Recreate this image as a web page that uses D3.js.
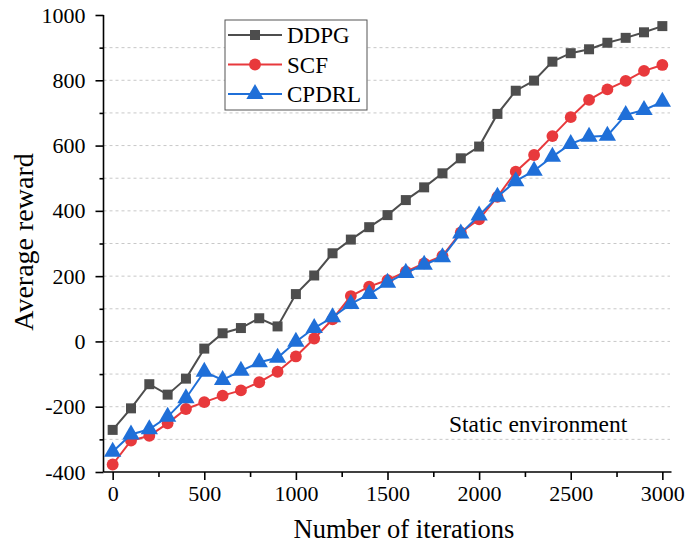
<!DOCTYPE html>
<html>
<head>
<meta charset="utf-8">
<script src="https://cdn.jsdelivr.net/npm/d3@7"></script>
<style>
  body { margin: 0; background: #fff; }
</style>
</head>
<body>
<div id="chart"></div>
<script>
// iterations on the x axis
const iterations = [0, 100, 200, 300, 400, 500, 600, 700, 800, 900, 1000,
    1100, 1200, 1300, 1400, 1500, 1600, 1700, 1800, 1900, 2000,
    2100, 2200, 2300, 2400, 2500, 2600, 2700, 2800, 2900, 3000];

// average reward per method
const ddpg = [-271, -205, -131, -163, -114, -22, 25, 41, 71, 46, 145,
    202, 270, 312, 350, 387, 433, 472, 515, 561, 597,
    697, 768, 799, 857, 883, 895, 915, 930, 947, 966];
const scf = [-377, -304, -289, -251, -207, -186, -166, -150, -125, -93, -46,
    9, 68, 139, 168, 188, 214, 239, 262, 334, 374,
    443, 520, 571, 629, 687, 740, 772, 798, 829, 847];
const cpdrl = [-338, -285, -269, -231, -174, -93, -118, -90, -64, -50, -1,
    41, 74, 115, 145, 180, 210, 235, 258, 331, 386,
    443, 491, 523, 566, 605, 627, 630, 694, 709, 734];

const seriesNames = ["DDPG", "SCF", "CPDRL"];
const seriesColors = ["#4d4d4d", "#e8393c", "#1f6fd8"];
const seriesShapes = [d3.symbolSquare, d3.symbolCircle, d3.symbolTriangle];
const seriesSizes = [100, 110, 130];

const xTicks = [0, 500, 1000, 1500, 2000, 2500, 3000];
const yTicks = [-400, -200, 0, 200, 400, 600, 800, 1000];

const FONT = "'Liberation Serif', 'Times New Roman', 'DejaVu Serif', serif";

const width = 686, height = 547;
const svg = d3.select("#chart").append("svg")
    .attr("width", width)
    .attr("height", height);

const x = d3.scaleLinear().domain([-50, 3050]).range([103.5, 671.5]);
const y = d3.scaleLinear().domain([-400, 1000]).range([472, 15]);

// dashed grid every 100
svg.append("g")
    .selectAll("line")
    .data(d3.range(-300, 1000, 100))
    .join("line")
    .attr("x1", x(-50)).attr("x2", 670)
    .attr("y1", d => y(d)).attr("y2", d => y(d))
    .attr("stroke", "#c8c8c8")
    .attr("stroke-width", 1)
    .attr("stroke-dasharray", "3,3");

// x axis
const xAxis = svg.append("g").attr("transform", `translate(0,${y(-400)})`);
xAxis.append("g").call(d3.axisBottom(x).tickValues(d3.range(250, 3000, 500)).tickSize(5).tickFormat(""));
xAxis.append("g").call(d3.axisBottom(x).tickValues(xTicks).tickSize(8).tickPadding(5).tickFormat(d => String(d)));

// y axis
const yAxis = svg.append("g").attr("transform", `translate(${x(-50)},0)`);
yAxis.append("g").call(d3.axisLeft(y).tickValues(d3.range(-300, 1000, 200)).tickSize(4).tickFormat(""));
yAxis.append("g").call(d3.axisLeft(y).tickValues(yTicks).tickSize(8).tickPadding(10).tickFormat(d => String(d)));

svg.selectAll(".domain").remove();
svg.selectAll(".tick line").attr("stroke", "#000").attr("stroke-width", 1.6);
svg.selectAll(".tick text")
    .style("font-family", FONT)
    .style("font-size", "22px")
    .attr("fill", "#000");

svg.append("line")
    .attr("x1", x(-50)).attr("x2", x(-50))
    .attr("y1", y(1000)).attr("y2", y(-400))
    .attr("stroke", "#000").attr("stroke-width", 1.6);
svg.append("line")
    .attr("x1", x(-50)).attr("x2", x(3050))
    .attr("y1", y(-400)).attr("y2", y(-400))
    .attr("stroke", "#000").attr("stroke-width", 1.6);

// series
const allSeries = [ddpg, scf, cpdrl];
const line = d3.line()
    .x((d, i) => x(iterations[i]))
    .y(d => y(d));

allSeries.forEach((vals, k) => {
    svg.append("path")
        .datum(vals)
        .attr("fill", "none")
        .attr("stroke", seriesColors[k])
        .attr("stroke-width", 2)
        .attr("d", line);
    svg.append("g")
        .selectAll("path")
        .data(vals)
        .join("path")
        .attr("transform", (d, i) => `translate(${x(iterations[i])},${y(d)})`)
        .attr("d", d3.symbol().type(seriesShapes[k]).size(seriesSizes[k]))
        .attr("fill", seriesColors[k]);
});

// legend
const legend = svg.append("g");
legend.append("rect")
    .attr("x", 225).attr("y", 20)
    .attr("width", 142).attr("height", 90)
    .attr("fill", "#fff")
    .attr("stroke", "#555").attr("stroke-width", 1);
seriesNames.forEach((name, k) => {
    const ly = 35 + k * 29.5;
    legend.append("line")
        .attr("x1", 228).attr("x2", 282)
        .attr("y1", ly).attr("y2", ly)
        .attr("stroke", seriesColors[k]).attr("stroke-width", 2);
    legend.append("path")
        .attr("transform", `translate(255,${ly})`)
        .attr("d", d3.symbol().type(seriesShapes[k]).size(seriesSizes[k]))
        .attr("fill", seriesColors[k]);
    legend.append("text")
        .attr("x", 287).attr("y", ly + 8)
        .style("font-family", FONT)
        .style("font-size", "23px")
        .text(name);
});

// annotation
svg.append("text")
    .attr("x", 449).attr("y", 432)
    .style("font-family", FONT)
    .style("font-size", "23.5px")
    .text("Static environment");

// axis titles
svg.append("text")
    .attr("x", 404).attr("y", 538)
    .attr("text-anchor", "middle")
    .style("font-family", FONT)
    .style("font-size", "26.5px")
    .text("Number of iterations");
svg.append("text")
    .attr("transform", "translate(33,242) rotate(-90)")
    .attr("text-anchor", "middle")
    .style("font-family", FONT)
    .style("font-size", "28px")
    .text("Average reward");
</script>
</body>
</html>
